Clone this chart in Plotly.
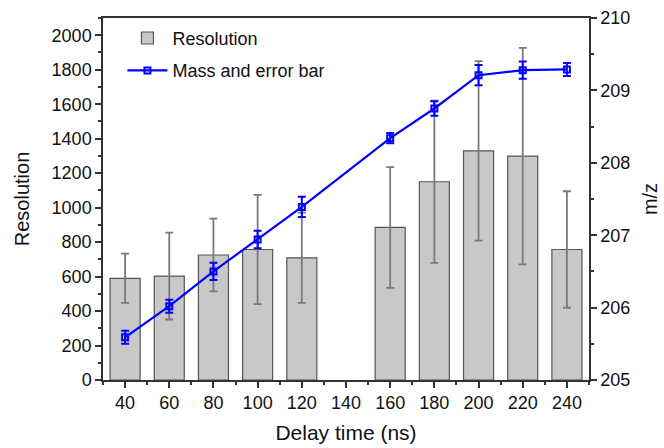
import plotly.graph_objects as go

delay = [40, 60, 80, 100, 120, 160, 180, 200, 220, 240]
resolution = [590, 603, 725, 757, 709, 885, 1150, 1329, 1299, 757]
resolution_err = [143, 252, 211, 317, 262, 350, 470, 521, 628, 338]
mass = [205.59, 206.02, 206.50, 206.94, 207.39, 208.34, 208.75, 209.21, 209.28, 209.29]
mass_err = [0.09, 0.09, 0.12, 0.12, 0.14, 0.07, 0.10, 0.14, 0.12, 0.09]
x_ticks = [40, 60, 80, 100, 120, 140, 160, 180, 200, 220, 240]

axis_color = "#333333"
font_family = "Liberation Sans, Arial, sans-serif"

fig = go.Figure()
fig.add_trace(go.Bar(
    x=delay, y=resolution, name="Resolution",
    width=13.6,
    marker=dict(color="#c8c8c8", line=dict(color="#555555", width=1.2)),
    error_y=dict(type="data", array=resolution_err, color="#7a7a7a", thickness=1.8, width=4),
    yaxis="y", legendgroup="a",
))
fig.add_trace(go.Scatter(
    x=delay, y=mass, name="Mass and error bar", mode="lines+markers",
    line=dict(color="#0000ff", width=2.2),
    marker=dict(symbol="square-open", size=6, color="#0000ff", line=dict(width=2)),
    error_y=dict(type="data", array=mass_err, color="#0000ff", thickness=2, width=4),
    yaxis="y2", legendgroup="b",
))

fig.update_layout(
    width=664, height=448,
    margin=dict(l=103, r=75, t=18, b=68),
    plot_bgcolor="white", paper_bgcolor="white",
    font=dict(family=font_family, size=18, color="#111111"),
    showlegend=True,
    legend=dict(x=0.04, y=0.995, xanchor="left", yanchor="top",
                bgcolor="rgba(0,0,0,0)", font=dict(size=18),
                traceorder="grouped", tracegroupgap=6, itemwidth=40),
    xaxis=dict(
        range=[30, 250], tickmode="array", tickvals=x_ticks,
        ticks="outside", ticklen=6, tickwidth=1.5, tickcolor=axis_color,
        minor=dict(ticks="outside", ticklen=3, dtick=20, tick0=30, tickcolor=axis_color),
        showline=True, linecolor=axis_color, linewidth=1.5, mirror=True,
        showgrid=False, zeroline=False, automargin=False,
        title=dict(text="Delay time (ns)", font=dict(size=21), standoff=13),
        tickfont=dict(size=18),
    ),
    yaxis=dict(
        range=[0, 2100], tickvals=list(range(0, 2001, 200)),
        ticks="outside", ticklen=6, tickwidth=1.5, tickcolor=axis_color,
        minor=dict(ticks="outside", ticklen=3, dtick=100, tickcolor=axis_color),
        showline=True, linecolor=axis_color, linewidth=1.5,
        showgrid=False, zeroline=False, automargin=False,
        title=dict(text="Resolution", font=dict(size=20), standoff=17),
        tickfont=dict(size=18),
    ),
    yaxis2=dict(
        range=[205, 210], tickvals=[205, 206, 207, 208, 209, 210],
        overlaying="y", side="right",
        ticks="outside", ticklen=6, tickwidth=1.5, tickcolor=axis_color,
        minor=dict(ticks="outside", ticklen=3, dtick=0.5, tickcolor=axis_color),
        showline=True, linecolor=axis_color, linewidth=1.5,
        showgrid=False, zeroline=False, automargin=False,
        title=dict(text="m/z", font=dict(size=20), standoff=14),
        tickfont=dict(size=18),
    ),
)

fig.write_html("out.html", config={"displayModeBar": False},
               post_script="document.body.style.margin='0';")
